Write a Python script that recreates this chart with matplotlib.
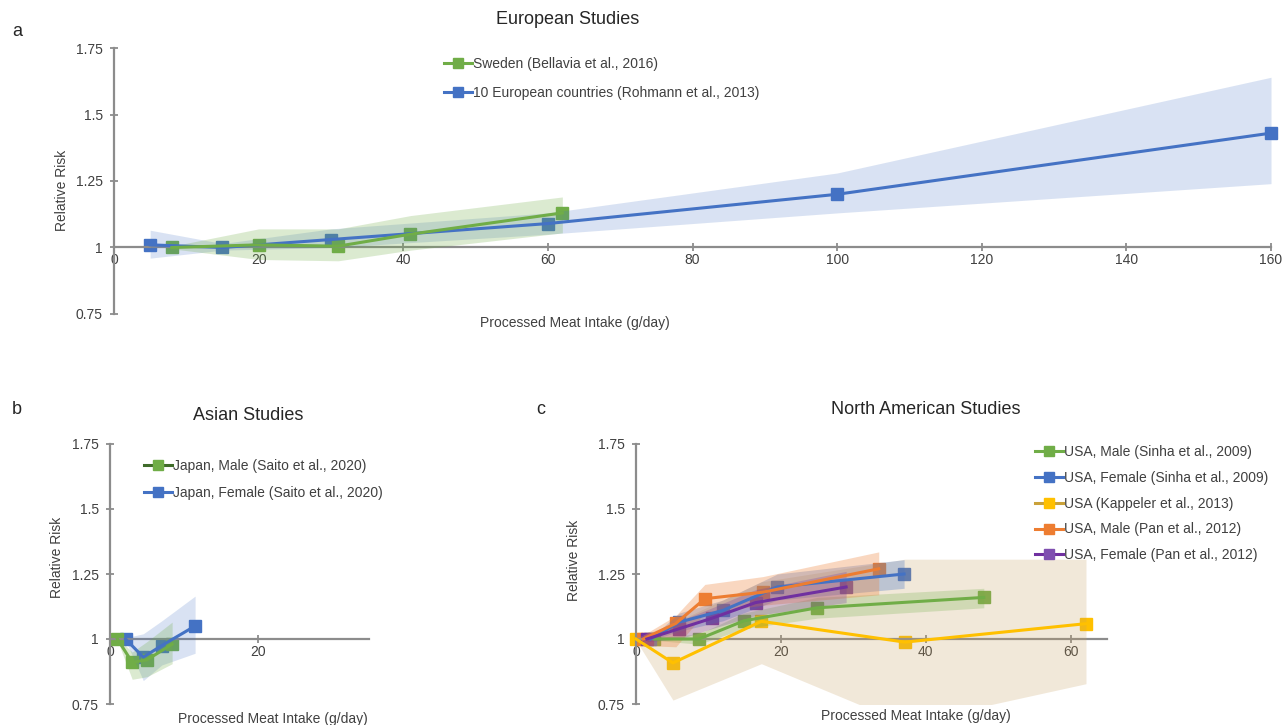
import matplotlib
matplotlib.use("Agg")
import matplotlib.pyplot as plt
from matplotlib.lines import Line2D

plt.rcParams["font.family"] = ["Liberation Sans", "DejaVu Sans"]

W, H = 1285, 725

# ---- data: European studies ----
sweden_x = [8, 20, 31, 41, 62]
sweden_rr = [1.00, 1.01, 1.005, 1.05, 1.13]
sweden_lo = [0.995, 0.955, 0.95, 0.99, 1.055]
sweden_hi = [1.005, 1.07, 1.07, 1.12, 1.19]

europe_x = [5, 15, 30, 60, 100, 160]
europe_rr = [1.01, 1.00, 1.03, 1.09, 1.20, 1.43]
europe_lo = [0.96, 0.99, 1.00, 1.05, 1.13, 1.24]
europe_hi = [1.065, 1.015, 1.07, 1.13, 1.28, 1.64]

# ---- data: Asian studies ----
jp_male_x = [1, 3, 5, 8.4]
jp_male_rr = [1.00, 0.91, 0.92, 0.98]
jp_male_lo = [0.995, 0.845, 0.855, 0.905]
jp_male_hi = [1.005, 0.95, 0.99, 1.065]

jp_female_x = [2.1, 4.5, 7.0, 11.5]
jp_female_rr = [1.00, 0.93, 0.975, 1.05]
jp_female_lo = [0.995, 0.84, 0.90, 0.945]
jp_female_hi = [1.005, 1.02, 1.07, 1.165]

# ---- data: North American studies ----
sinha_m_x = [2.5, 8.7, 14.9, 25, 48]
sinha_m_rr = [1.00, 1.00, 1.07, 1.12, 1.16]
sinha_m_lo = [0.995, 0.98, 1.04, 1.08, 1.12]
sinha_m_hi = [1.005, 1.02, 1.10, 1.16, 1.195]

sinha_f_x = [2, 6, 12, 19.5, 37]
sinha_f_rr = [1.00, 1.065, 1.11, 1.20, 1.25]
sinha_f_lo = [0.995, 1.03, 1.07, 1.15, 1.195]
sinha_f_hi = [1.005, 1.10, 1.15, 1.25, 1.305]

kapp_x = [0, 5.1, 17.3, 37.1, 62.1]
kapp_rr = [1.00, 0.908, 1.068, 0.988, 1.059]
kapp_lo = [0.995, 0.765, 0.905, 0.675, 0.828]
kapp_hi = [1.005, 1.06, 1.22, 1.307, 1.307]

pan_m_x = [1, 5.5, 9.5, 17.5, 33.5]
pan_m_rr = [1.00, 1.06, 1.155, 1.18, 1.27]
pan_m_lo = [0.975, 0.97, 1.10, 1.13, 1.17]
pan_m_hi = [1.015, 1.09, 1.21, 1.24, 1.335]

pan_f_x = [1.5, 6, 10.5, 16.5, 29]
pan_f_rr = [1.00, 1.04, 1.08, 1.14, 1.20]
pan_f_lo = [0.99, 1.00, 1.04, 1.09, 1.14]
pan_f_hi = [1.01, 1.07, 1.12, 1.19, 1.26]

y_ticks = [0.75, 1, 1.25, 1.5, 1.75]

GREEN = "#70AD47"
BLUE = "#4472C4"
YELLOW = "#FFC000"
ORANGE = "#ED7D31"
PURPLE = "#7030A0"
AXIS = "#8C8C8C"
TEXT = "#404040"


def fx(px):
    return px / W


def fy(py):
    return 1 - py / H


def make_axes(fig, x0, x1, y_top, y_bot, xmax):
    ax = fig.add_axes([fx(x0), fy(y_bot), fx(x1) - fx(x0), fy(y_top) - fy(y_bot)])
    ax.set_xlim(0, xmax)
    ax.set_ylim(0.75, 1.75)
    ax.spines["top"].set_visible(False)
    ax.spines["right"].set_visible(False)
    ax.spines["bottom"].set_position(("data", 1))
    for s in ("left", "bottom"):
        ax.spines[s].set_color(AXIS)
        ax.spines[s].set_linewidth(1.6)
    ax.set_xticks(list(range(0, int(xmax) + 1, 20)))
    ax.set_yticks(y_ticks)
    ax.set_yticklabels([f"{v:g}" for v in y_ticks])
    ax.tick_params(axis="both", direction="inout", length=6, width=1.3,
                   color=AXIS, labelcolor=TEXT, labelsize=10)
    ax.tick_params(axis="y", pad=5)
    ax.tick_params(axis="x", pad=1)
    ax.patch.set_alpha(0)
    return ax


def series(ax, x, rr, lo, hi, color, band_color=None, band_alpha=0.25):
    ax.fill_between(x, lo, hi, color=band_color or color, alpha=band_alpha,
                    linewidth=0, zorder=3)
    ax.plot(x, rr, linestyle="none", marker="s", markersize=8.5,
            color=color, zorder=2, clip_on=False)
    ax.plot(x, rr, color=color, linewidth=2.2, zorder=4, clip_on=False)


def handle(line_color, marker_color):
    return Line2D([], [], color=line_color, linewidth=2.2, marker="s",
                  markersize=7, markerfacecolor=marker_color,
                  markeredgecolor=marker_color)


fig = plt.figure(figsize=(W / 100, H / 100), dpi=100)

# ---- panel a ----
ax_a = make_axes(fig, 114, 1271, 48, 314, 160)
series(ax_a, europe_x, europe_rr, europe_lo, europe_hi, BLUE, band_alpha=0.2)
series(ax_a, sweden_x, sweden_rr, sweden_lo, sweden_hi, GREEN)
ax_a.legend([handle(GREEN, GREEN), handle(BLUE, BLUE)],
            ["Sweden (Bellavia et al., 2016)",
             "10 European countries (Rohmann et al., 2013)"],
            loc="upper left", bbox_to_anchor=(fx(444), fy(57)),
            bbox_transform=fig.transFigure, frameon=False, fontsize=10,
            borderpad=0, borderaxespad=0, handlelength=2.0, handletextpad=0.1,
            labelspacing=1.05, labelcolor=TEXT)

# ---- panel b ----
ax_b = make_axes(fig, 110, 369, 444, 704, 35)
series(ax_b, jp_female_x, jp_female_rr, jp_female_lo, jp_female_hi, BLUE, band_alpha=0.2)
series(ax_b, jp_male_x, jp_male_rr, jp_male_lo, jp_male_hi, GREEN)
ax_b.legend([handle("#3F6B2A", GREEN), handle(BLUE, BLUE)],
            ["Japan, Male (Saito et al., 2020)",
             "Japan, Female (Saito et al., 2020)"],
            loc="upper left", bbox_to_anchor=(fx(144), fy(459)),
            bbox_transform=fig.transFigure, frameon=False, fontsize=10,
            borderpad=0, borderaxespad=0, handlelength=2.0, handletextpad=0.1,
            labelspacing=0.95, labelcolor=TEXT)

# ---- panel c ----
ax_c = make_axes(fig, 636, 1107, 444, 704, 65)
series(ax_c, kapp_x, kapp_rr, kapp_lo, kapp_hi, YELLOW, band_color="#C8A060", band_alpha=0.24)
series(ax_c, sinha_m_x, sinha_m_rr, sinha_m_lo, sinha_m_hi, GREEN)
series(ax_c, sinha_f_x, sinha_f_rr, sinha_f_lo, sinha_f_hi, BLUE, band_alpha=0.3)
series(ax_c, pan_m_x, pan_m_rr, pan_m_lo, pan_m_hi, ORANGE, band_alpha=0.3)
series(ax_c, pan_f_x, pan_f_rr, pan_f_lo, pan_f_hi, PURPLE, band_alpha=0.25)
ax_c.legend([handle(GREEN, GREEN), handle(BLUE, BLUE), handle("#C9A13A", YELLOW),
             handle(ORANGE, ORANGE), handle(PURPLE, "#7F4FB0")],
            ["USA, Male (Sinha et al., 2009)",
             "USA, Female (Sinha et al., 2009)",
             "USA (Kappeler et al., 2013)",
             "USA, Male (Pan et al., 2012)",
             "USA, Female (Pan et al., 2012)"],
            loc="upper left", bbox_to_anchor=(fx(1035), fy(445)),
            bbox_transform=fig.transFigure, frameon=False, fontsize=10,
            borderpad=0, borderaxespad=0, handlelength=2.0, handletextpad=0.1,
            labelspacing=0.85, labelcolor=TEXT)

# ---- titles, axis labels, panel letters ----
titles = [("European Studies", 568, 20), ("Asian Studies", 248, 415),
          ("North American Studies", 926, 410)]
for text, x, y in titles:
    fig.text(fx(x), fy(y), text, ha="center", va="center", fontsize=13,
             color="#262626")

for text, x, y in [("a", 17, 32), ("b", 17, 410), ("c", 541, 410)]:
    fig.text(fx(x), fy(y), text, ha="center", va="center", fontsize=13,
             color="#262626")

for x, y in [(575, 323), (273, 719), (916, 716)]:
    fig.text(fx(x), fy(y), "Processed Meat Intake (g/day)", ha="center",
             va="center", fontsize=10, color=TEXT)

for x, y in [(62, 190), (57, 557), (574, 560)]:
    fig.text(fx(x), fy(y), "Relative Risk", ha="center", va="center",
             rotation=90, fontsize=10, color=TEXT)

fig.savefig("out.png", dpi=100)
